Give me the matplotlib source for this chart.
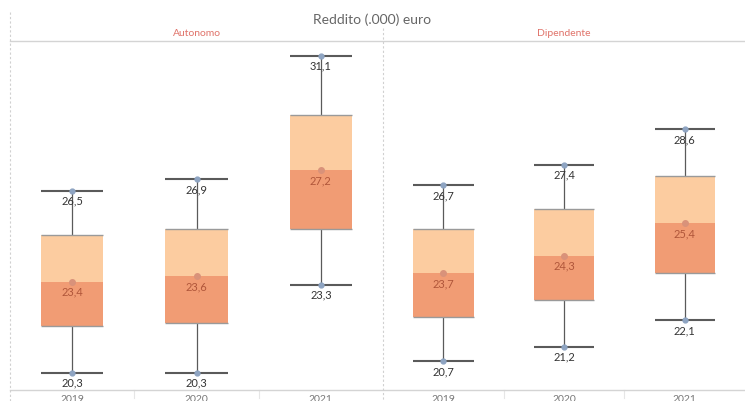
import matplotlib.pyplot as plt
from matplotlib.lines import Line2D

plt.rcParams['font.family'] = ['Lato', 'DejaVu Sans']

panels = ["Autonomo", "Dipendente"]
years = ["2019", "2020", "2021"]
mins = {"Autonomo": [20.3, 20.3, 23.3], "Dipendente": [20.7, 21.2, 22.1]}
q1s = {"Autonomo": [21.9, 22.0, 25.2], "Dipendente": [22.2, 22.8, 23.7]}
medians = {"Autonomo": [23.4, 23.6, 27.2], "Dipendente": [23.7, 24.3, 25.4]}
q3s = {"Autonomo": [25.0, 25.2, 29.1], "Dipendente": [25.2, 25.9, 27.0]}
maxs = {"Autonomo": [26.5, 26.9, 31.1], "Dipendente": [26.7, 27.4, 28.6]}

W, H = 745, 401
fig = plt.figure(figsize=(W / 100, H / 100), dpi=100)

def fx(px):
    return px / W

def fy(py):
    return 1 - py / H

top_px, bot_px = 41, 390
panel_x = [(10, 383), (383, 745)]
ylim = (19.72, 31.61)

c_upper = "#fccca0"
c_lower = "#f19c74"
c_whisk = "#5a5a5a"
c_edge = "#9a9a9a"
fmt = lambda v: f"{v:.1f}".replace(".", ",")

for p, (x0, x1) in zip(panels, panel_x):
    ax = fig.add_axes([fx(x0), fy(bot_px), fx(x1 - x0), (bot_px - top_px) / H])
    ax.set_xlim(0, 3)
    ax.set_ylim(*ylim)
    ax.axis("off")
    xs = [i + 0.5 for i in range(3)]
    bw = 0.5
    for i, x in enumerate(xs):
        lo, q1, md, q3, hi = mins[p][i], q1s[p][i], medians[p][i], q3s[p][i], maxs[p][i]
        ax.plot([x, x], [q3, hi], color=c_whisk, lw=0.9, zorder=1)
        ax.plot([x, x], [lo, q1], color=c_whisk, lw=0.9, zorder=1)
        ax.plot([x - bw / 2, x + bw / 2], [hi, hi], color=c_whisk, lw=1.5, zorder=2, solid_capstyle="butt")
        ax.plot([x - bw / 2, x + bw / 2], [lo, lo], color=c_whisk, lw=1.5, zorder=2, solid_capstyle="butt")
        ax.bar(x, md - q1, bottom=q1, width=bw, color=c_lower, zorder=2, linewidth=0)
        ax.bar(x, q3 - md, bottom=md, width=bw, color=c_upper, zorder=2, linewidth=0)
        ax.plot([x - bw / 2, x + bw / 2], [q3, q3], color=c_edge, lw=1.0, zorder=3, solid_capstyle="butt")
        ax.plot([x - bw / 2, x + bw / 2], [q1, q1], color=c_edge, lw=1.0, zorder=3, solid_capstyle="butt")
        ax.plot([x, x], [lo, hi], ls="none", marker="o", ms=3.5, color="#8ea4c2", zorder=4)
        ax.plot([x], [md], ls="none", marker="o", ms=4, color="#d9927a", zorder=4)
        ax.annotate(fmt(hi), (x, hi), xytext=(0, -3.5), textcoords="offset points",
                    ha="center", va="top", fontsize=8, color="#333333", zorder=5)
        ax.annotate(fmt(lo), (x, lo), xytext=(0, -3.5), textcoords="offset points",
                    ha="center", va="top", fontsize=8, color="#333333", zorder=5)
        ax.annotate(fmt(md), (x, md), xytext=(0, -3.5), textcoords="offset points",
                    ha="center", va="top", fontsize=8, color="#b0563a", zorder=5)
        fig.text(fx(x0 + (x1 - x0) * x / 3), fy(395), years[i], ha="center", va="top",
                 fontsize=7.5, color="#777777")
    for k in (1, 2):
        xp = x0 + (x1 - x0) * k / 3
        fig.add_artist(Line2D([fx(xp), fx(xp)], [fy(bot_px), fy(bot_px + 8)], color="#e6e6e6", lw=0.8))
    fig.text(fx((x0 + x1) / 2), fy(34), p, ha="center", va="center", fontsize=7.5, color="#e0736a")

fig.text(fx(372), fy(20), "Reddito (.000) euro", ha="center", va="center", fontsize=10, color="#666666")

fig.add_artist(Line2D([fx(10), 1], [fy(top_px), fy(top_px)], color="#d4d4d4", lw=1.0))
fig.add_artist(Line2D([fx(10), 1], [fy(bot_px), fy(bot_px)], color="#d4d4d4", lw=1.0))
fig.add_artist(Line2D([fx(10), fx(10)], [fy(12), 0], color="#d0d0d0", lw=0.8, ls=(0, (2, 2))))
fig.add_artist(Line2D([fx(383), fx(383)], [fy(28), 0], color="#d0d0d0", lw=0.8, ls=(0, (2, 2))))

fig.savefig("out.png", dpi=100)
